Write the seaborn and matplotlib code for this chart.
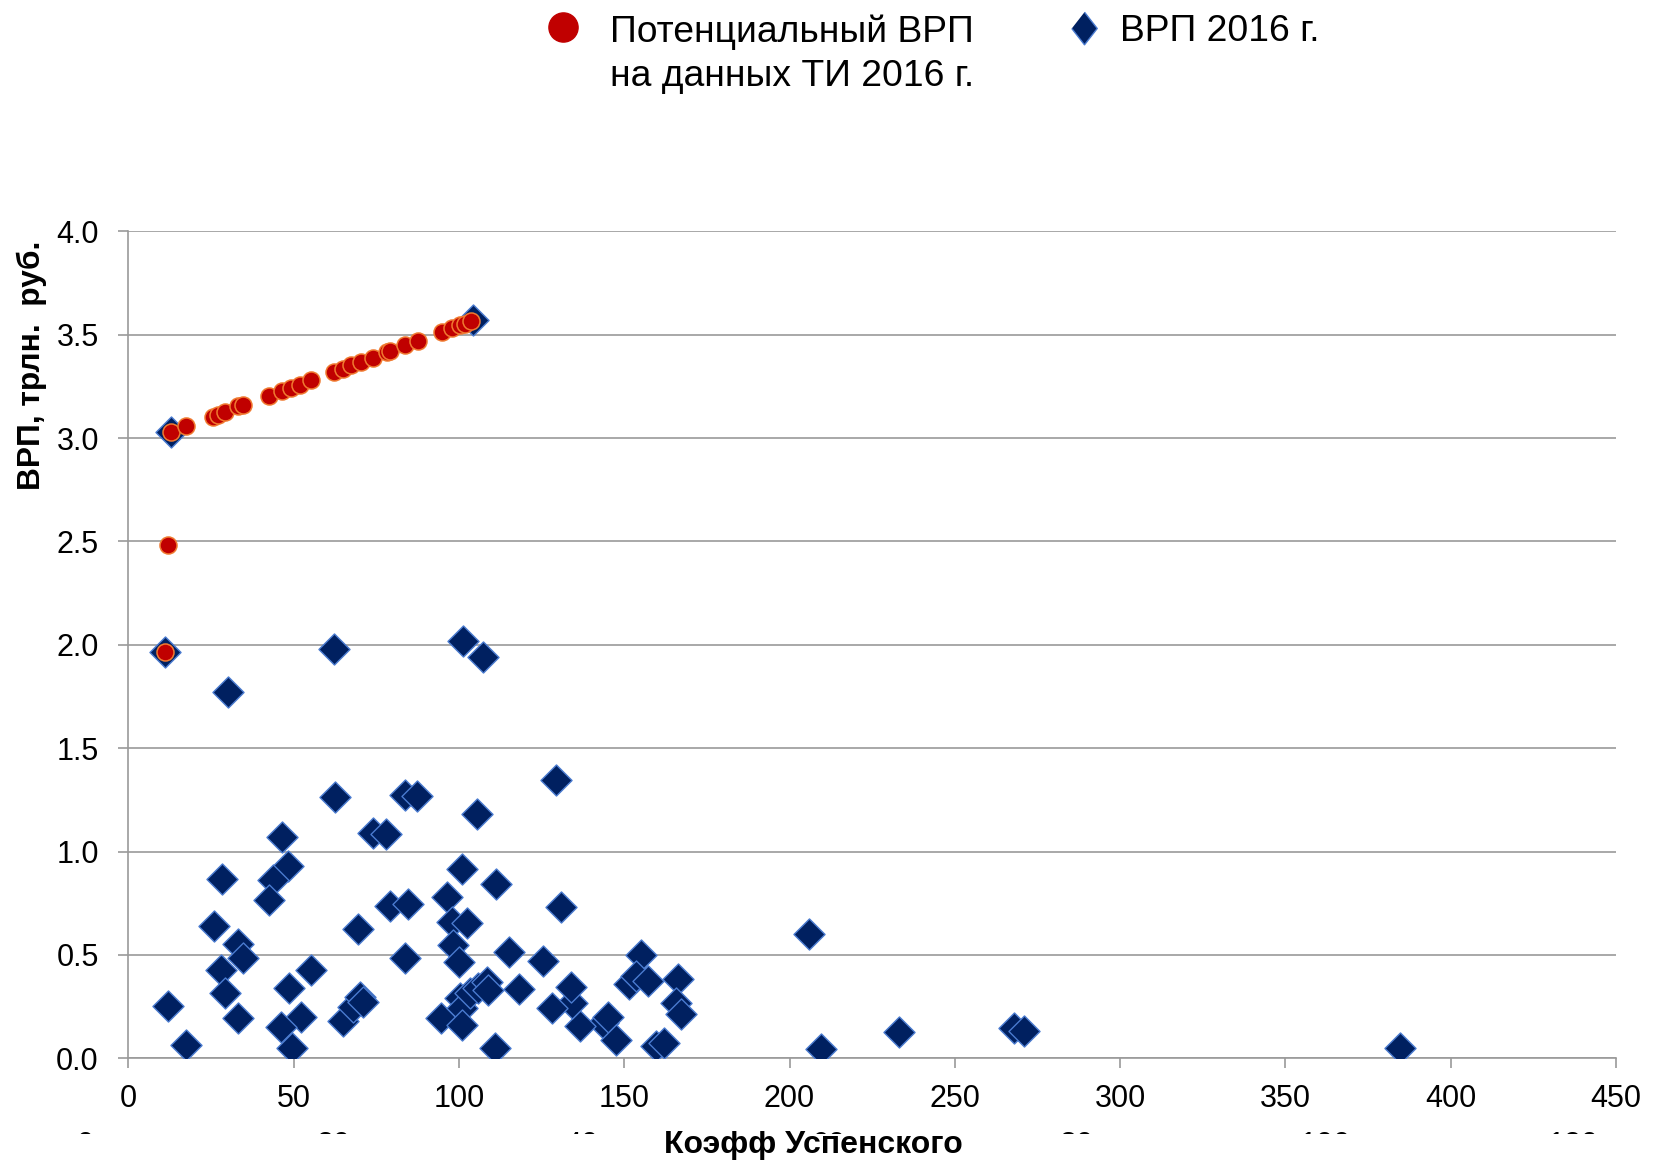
import matplotlib
matplotlib.use("Agg")
import matplotlib.pyplot as plt
import pandas as pd
import seaborn as sns
from matplotlib.lines import Line2D
from matplotlib.transforms import Bbox

# ВРП 2016 г. по регионам: коэффициент Успенского и ВРП, трлн руб.
grp_coef = [11.1, 30.2, 62.3, 62.5, 83.7, 87.2, 73.9, 78.1, 46.5, 48.4,
            43.9, 42.5, 28.2, 79.1, 84.5, 69.6, 26.0, 33.1, 34.8, 83.7,
            28.0, 55.4, 29.4, 48.7, 12.1, 33.3, 52.1, 46.2, 49.4, 17.4,
            64.8, 68.1, 70.1, 71.1,
            101.1, 107.2, 105.5, 129.3, 100.8, 111.2, 131.0, 96.3, 97.8, 102.3,
            98.1, 100.1, 115.2, 125.5, 155.2, 151.5, 153.5, 157.2, 166.3, 165.8,
            167.3, 159.6, 162.1, 143.5, 145.0, 147.6, 136.6, 134.1, 133.8, 128.2,
            118.2, 110.9,
            94.5, 100.3, 100.8, 100.8, 103.3, 105.8, 108.4, 108.9,
            12.8, 104.3,
            205.8, 209.5, 233.0, 268.0, 270.8, 384.8]
grp_value = [1.965, 1.77, 1.98, 1.263, 1.274, 1.271, 1.092, 1.085, 1.068, 0.931,
             0.863, 0.766, 0.869, 0.737, 0.745, 0.626, 0.640, 0.553, 0.484, 0.487,
             0.427, 0.427, 0.315, 0.339, 0.255, 0.197, 0.198, 0.150, 0.048, 0.065,
             0.181, 0.249, 0.297, 0.273,
             2.019, 1.94, 1.182, 1.347, 0.915, 0.842, 0.731, 0.779, 0.661, 0.656,
             0.548, 0.468, 0.516, 0.471, 0.50, 0.36, 0.40, 0.375, 0.382, 0.266,
             0.213, 0.06, 0.075, 0.17, 0.20, 0.09, 0.156, 0.266, 0.347, 0.242,
             0.334, 0.048,
             0.194, 0.29, 0.242, 0.161, 0.315, 0.339, 0.371, 0.331,
             3.03, 3.57,
             0.6, 0.045, 0.126, 0.145, 0.132, 0.052]

# Потенциальный ВРП на данных ТИ 2016 г.
pot_coef = [11.0, 11.9, 12.9, 17.4, 25.7, 27.2, 29.2, 33.3, 34.8, 42.5,
            46.4, 49.2, 51.9, 55.3, 62.1, 64.9, 67.5, 70.3, 73.9, 78.4,
            79.1, 83.7, 87.7, 94.8, 97.8, 100.3, 101.8, 103.8]
pot_value = [1.965, 2.482, 3.031, 3.056, 3.103, 3.112, 3.125, 3.153, 3.16, 3.203,
             3.227, 3.244, 3.259, 3.279, 3.32, 3.336, 3.351, 3.367, 3.388, 3.415,
             3.42, 3.449, 3.47, 3.513, 3.53, 3.545, 3.553, 3.566]

x_ticks = [0, 50, 100, 150, 200, 250, 300, 350, 400, 450]
y_ticks = [0.0, 0.5, 1.0, 1.5, 2.0, 2.5, 3.0, 3.5, 4.0]
sec_tick_labels = ["0", "20", "40", "60", "80", "100", "120"]

label_pot = "Потенциальный ВРП\nна данных ТИ 2016 г."
label_grp = "ВРП 2016 г."

sns.set_theme(style="white")
plt.rcParams["font.family"] = ["Liberation Sans", "DejaVu Sans"]
plt.rcParams["text.color"] = "black"

W, H = 1673, 1163
fig = plt.figure(figsize=(W / 100, H / 100), dpi=100)
ax = fig.add_axes([128.3 / W, 1 - 1058.3 / H, 1487.7 / W, 827.0 / H])

df_grp = pd.DataFrame({"coef": grp_coef, "grp": grp_value})
df_pot = pd.DataFrame({"coef": pot_coef, "grp": pot_value})

sns.scatterplot(data=df_grp, x="coef", y="grp", marker="D", s=250,
                color="#002060", edgecolor="#4a7bd0", linewidth=1.0,
                ax=ax, zorder=3, legend=False)
sns.scatterplot(data=df_pot, x="coef", y="grp", marker="o", s=150,
                color="#c00000", edgecolor="#f07a30", linewidth=1.1,
                ax=ax, zorder=4, legend=False)

grid_c = "#9a9a9a"
ax.set_xlim(0, 450)
ax.set_ylim(0, 4.0)
ax.set_xticks(x_ticks)
ax.set_yticks(y_ticks)
ax.set_xticklabels([str(v) for v in x_ticks])
ax.set_yticklabels([f"{v:.1f}" for v in y_ticks])
ax.yaxis.grid(True, color=grid_c, linewidth=1.2)
ax.xaxis.grid(False)
ax.set_axisbelow(True)
for side in ("top", "right"):
    ax.spines[side].set_visible(False)
for side in ("left", "bottom"):
    ax.spines[side].set_color(grid_c)
    ax.spines[side].set_linewidth(1.2)
ax.tick_params(axis="both", direction="out", length=7.2, width=1.2,
               color=grid_c, labelsize=22, labelcolor="black")
ax.tick_params(axis="y", pad=14)
ax.tick_params(axis="x", pad=11.3)
ax.tick_params(left=True, bottom=True)

ax.set_xlabel("Коэфф Успенского", fontsize=23, fontweight="bold", color="black")
ax.set_ylabel("ВРП, трлн.  руб.", fontsize=22.8, fontweight="bold", color="black")
ax.xaxis.set_label_coords((813 - 128.3) / 1487.7, (1058.3 - 1145) / 827.0)
ax.xaxis.label.set_va("center")
ax.yaxis.set_label_coords((32 - 128.3) / 1487.7, (1058.3 - 365) / 827.0)
ax.yaxis.label.set_va("center")

# secondary axis labels: only the top edge of each shows above the axis title
clip = Bbox.from_extents(0, H - 1134, W, H - 1131)
for i, lab in enumerate(sec_tick_labels):
    t = fig.text((85 + i * 248.0) / W, 1 - 1131 / H, lab, fontsize=22,
                 ha="center", va="top", color="black")
    t.set_clip_box(clip)
    t.set_clip_on(True)

h_pot = Line2D([], [], linestyle="none", marker="o", markersize=21,
               markerfacecolor="#c00000", markeredgecolor="#c00000")
h_grp = Line2D([], [], linestyle="none",
               marker=[(0, 1), (0.78, 0), (0, -1), (-0.78, 0)], markersize=23.5,
               markerfacecolor="#002060", markeredgecolor="#4a7bd0",
               markeredgewidth=1.0)

fs = 26.8
leg1 = fig.legend([h_pot], [label_pot], loc="upper left",
                  bbox_to_anchor=(541 / W, 1 - 14 / H), frameon=False,
                  fontsize=fs, handlelength=1.2, handletextpad=0.66,
                  borderpad=0, borderaxespad=0, labelspacing=0)
for text in leg1.get_texts():
    text.set_linespacing(1.34)
    text.set_color("black")
# keep the circle level with the first line of its two-line label
for column in leg1._legend_handle_box.get_children():
    for item in column.get_children():
        item.align = "top"

leg2 = fig.legend([h_grp], [label_grp], loc="upper left",
                  bbox_to_anchor=(1062 / W, 1 - 14 / H), frameon=False,
                  fontsize=fs, handlelength=1.2, handletextpad=0.35,
                  borderpad=0, borderaxespad=0)
for text in leg2.get_texts():
    text.set_color("black")

fig.savefig("out.png", dpi=100)
